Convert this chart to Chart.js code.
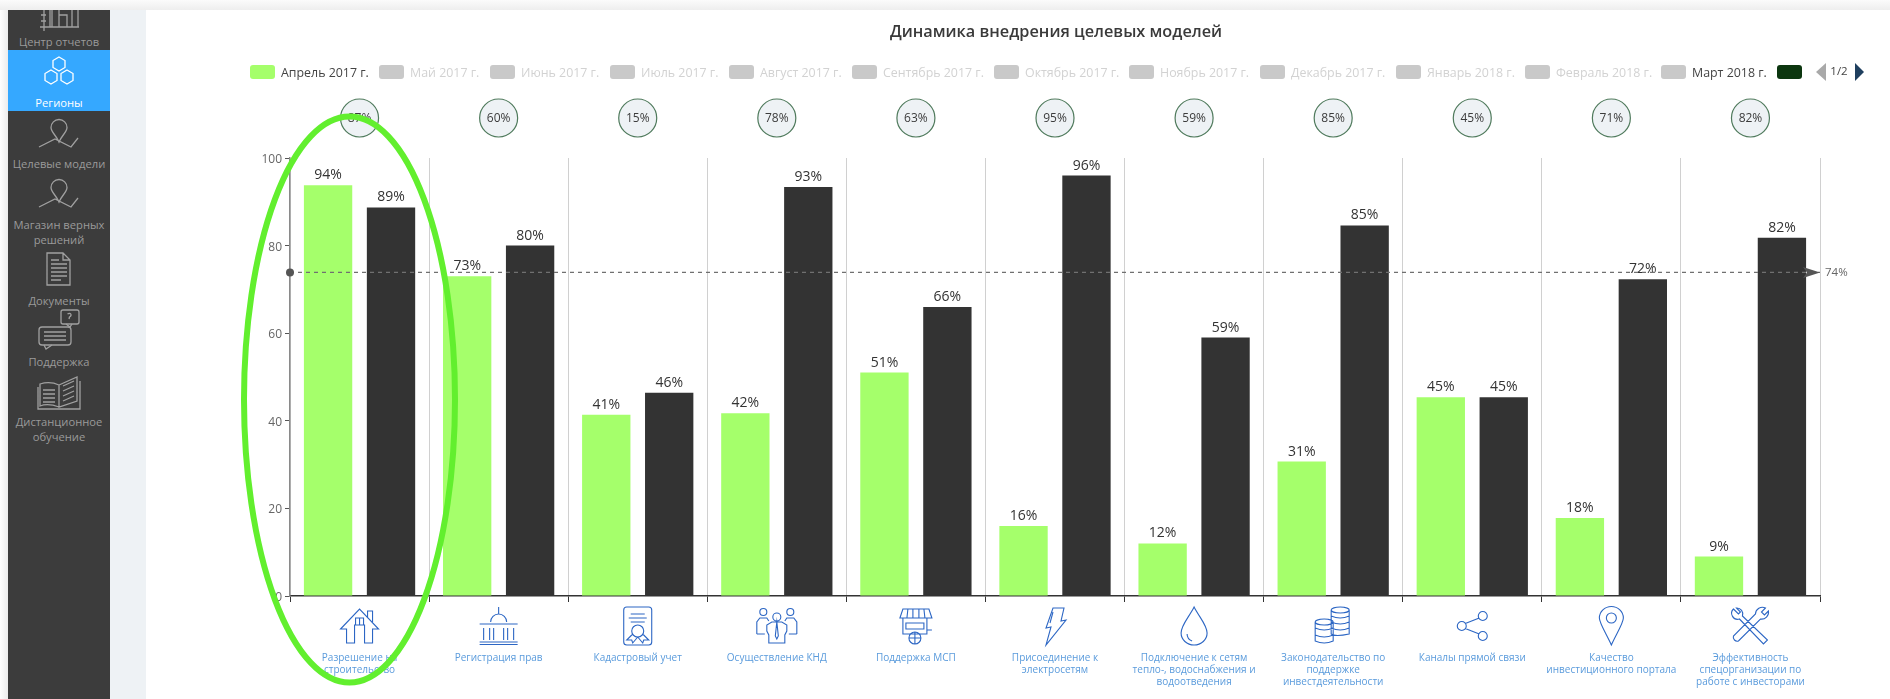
<!DOCTYPE html>
<html lang="ru"><head><meta charset="utf-8"><title>Динамика внедрения целевых моделей</title>
<script src="https://cdn.jsdelivr.net/npm/chart.js@4"></script>
<style>
html,body{margin:0;padding:0;background:#fff;overflow:hidden}
body{width:1890px;height:699px;position:relative;font-family:"Open Sans",sans-serif}
#top{position:absolute;left:0;top:0;width:1890px;height:10px;background:linear-gradient(#fbfbfb,#eeeeee)}
#edge{position:absolute;left:0;top:10px;width:8px;height:689px;background:linear-gradient(90deg,#fff,#ececec)}
#pale{position:absolute;left:110px;top:10px;width:36px;height:689px;background:#eef2f5}
#side{position:absolute;left:8px;top:10px;width:102px;height:689px;background:#3c3c3c;overflow:hidden}
#blue{position:absolute;left:0;top:40px;width:102px;height:61px;background:#35a8ff}
.t{position:absolute;left:0;width:102px;text-align:center;font-size:11.200px;line-height:15px;color:#9a9a9a;white-space:nowrap}
#side svg{position:absolute;left:0;top:0}
#c{position:absolute;left:0;top:0}
</style></head><body>
<div id="top"></div><div id="edge"></div><div id="pale"></div>
<div id="side"><div id="blue"></div>
<svg width="102" height="689" fill="none" stroke="#a0a0a0" stroke-width="1.300">
<path d="M32 17H71M36 0V21M33 5H38M33 11H38M42 0V17M44 0V17M51 0V17M51 5H59V17M64 0V17M70 0V17"/>
<g stroke="#fff"><path d="M51 47l6 3.500v7l-6 3.500-6-3.500v-7zM43 60l6 3.500v7l-6 3.500-6-3.500v-7zM59 60l6 3.500v7l-6 3.500-6-3.500v-7z"/></g>
<path d="M51 132C48 125 43 122 43 117.500a8 8 0 1 1 16 0C59 122 54 125 51 132zM31 137L47 129 63 137 70 128"/>
<path d="M51 192C48 185 43 182 43 177.500a8 8 0 1 1 16 0C59 182 54 185 51 192zM31 197L47 189 63 197 70 188"/>
<path d="M39 243h16l7 7v25H39zM55 243v7h7M43 250h8M43 254h16M43 258h16M43 262h16M43 266h16M43 270h10"/>
<rect x="53" y="300" width="18" height="14" rx="2"/><path d="M58 314l4 3 2-3"/><path d="M59.500 304c3-2 5 1 2 3l-.5 2"/>
<rect x="31" y="317" width="32" height="18" rx="3"/><path d="M36 335l2 4 6-4M36 322h22M36 326h22M36 330h22"/>
<path transform="translate(1,8)" d="M31 366v22q8-3 19 1v-22q-9-4-19-1zM50 367l18-8v24l-18 6zM34 372h12M34 376h12M34 380h12M34 384h12M54 368l11-5M54 373l11-5M54 378l11-5M54 383l11-5M29 369v22h42v-28"/>
</svg>
<div class="t" style="top:24px">Центр отчетов</div>
<div class="t" style="top:85px;color:#fff">Регионы</div>
<div class="t" style="top:146px">Целевые модели</div>
<div class="t" style="top:207px">Магазин верных<br>решений</div>
<div class="t" style="top:283px">Документы</div>
<div class="t" style="top:344px">Поддержка</div>
<div class="t" style="top:404px">Дистанционное<br>обучение</div>
</div>
<canvas id="c" width="1890" height="699"></canvas>
<script>
const FONT = '"Open Sans", sans-serif';
const categories = [
  ['Разрешение на','строительство'],
  ['Регистрация прав'],
  ['Кадастровый учет'],
  ['Осуществление КНД'],
  ['Поддержка МСП'],
  ['Присоединение к','электросетям'],
  ['Подключение к сетям','тепло-, водоснабжения и','водоотведения'],
  ['Законодательство по','поддержке','инвестдеятельности'],
  ['Каналы прямой связи'],
  ['Качество','инвестиционного портала'],
  ['Эффективность','спецорганизации по','работе с инвесторами']
];
const april2017 = [93.8,73,41.4,41.7,51,16,12,30.7,45.4,17.8,9];
const march2018 = [88.7,80,46.4,93.4,66,96,59,84.6,45.4,72.3,81.8];
const circleValues = [87,60,15,78,63,95,59,85,45,71,82];
const averageValue = 74;
const yTicks = [0,20,40,60,80,100];
const legendLabels = ['Апрель 2017 г.','Май 2017 г.','Июнь 2017 г.','Июль 2017 г.','Август 2017 г.','Сентябрь 2017 г.','Октябрь 2017 г.','Ноябрь 2017 г.','Декабрь 2017 г.','Январь 2018 г.','Февраль 2018 г.','Март 2018 г.'];
const legendLeft = [250,379,490,610,729,852,994,1129,1260,1396,1525,1661];
const titleText = 'Динамика внедрения целевых моделей';
const pageText = '1/2';

/* icons: path strings in a box centred on (0,0) */
const icons = [
 'M-19 3L0 -17 19 3H13V17H5V-1H-5V17H-13V3ZM8 -9V-15H13V-4M-4 -8H4V-1H-4ZM0 -8V-1',
 'M-19 -2H19M-19 16H19M-19 18.500H19M-15 2V14M-9 2V14M-5 2V14M5 2V14M9 2V14M15 2V14M-8 -4A8 8 0 0 1 8 -4M0 -12V-19',
 'M-11 -19H11Q14 -19 14 -16V16Q14 19 11 19H-11Q-14 19 -14 16V-16Q-14 -19 -11 -19ZM-7 -12H7M-9 -8H9M-7 -4H7M-6 5A6 6 0 1 0 6 5A6 6 0 1 0 -6 5M-5 8L-11 14 -6 14 -5 17 0 11 5 17 6 14 11 14 5 8',
 'M-4 -9A4 4 0 1 0 4 -9A4 4 0 1 0 -4 -9M-17 -14A3.500 3.500 0 1 0 -10 -14A3.500 3.500 0 1 0 -17 -14M10 -14A3.500 3.500 0 1 0 17 -14A3.500 3.500 0 1 0 10 -14M-8 17V9L-10 5V-1L-5 -4H5L10 -1V5L8 9V17ZM-20 8V-4L-17 -8H-10L-8 -5M20 8V-4L17 -8H10L8 -5M-20 8L-12 8M20 8L12 8M0 -4L-1.500 10 0 13 1.500 10Z',
 'M-13 -17H13L16 -8H-16ZM-8 -17L-9 -8M-3 -17V-8M3 -17V-8M8 -17L9 -8M-13 -8V8H11V-8M-10 -3H8V3H-10ZM-7 12A6 6 0 1 0 5 12A6 6 0 1 0 -7 12M-1 6V18M-7 12H5M11 4H16',
 'M-2 -18H9L6 -5 11 -6 -9 19 -4 1 -9 2ZM-2 -14L-5 -3',
 'M0 -19C5 -9 13 -1 13 7A13 12 0 1 1 -13 7C-13 -1 -5 -9 0 -19ZM-7 8Q-7 13 -2 15',
 'M-2 -16A9 3 0 1 0 16 -16A9 3 0 1 0 -2 -16V8Q2 11 16 8V-16M-2 -10Q7 -6 16 -10M-2 -4Q7 0 16 -4M-2 2Q7 6 16 2M-18 -4A9 3 0 1 0 0 -4A9 3 0 1 0 -18 -4V15Q-9 19 0 15V-4M-18 2Q-9 6 0 2M-18 9Q-9 13 0 9',
 'M-15 0A4.500 4.500 0 1 0 -6 0A4.500 4.500 0 1 0 -15 0M6 -10A4.500 4.500 0 1 0 15 -10A4.500 4.500 0 1 0 6 -10M6 10A4.500 4.500 0 1 0 15 10A4.500 4.500 0 1 0 6 10M-7 -2.500L7 -8M-7 2.500L7 8',
 'M0 19C-5 8 -12 -3 -12 -8A12 11.500 0 1 1 12 -8C12 -3 5 8 0 19ZM-5 -8A5 5 0 1 0 5 -8A5 5 0 1 0 -5 -8',
 'M-17 -17L-12 -12-10 -14-14 -18A6 6 0 0 1 -8 -10L17 14 13 18-11 -7A6 6 0 0 1 -17 -17ZM15 -18L11 -14 14 -11 18 -15A7 7 0 0 1 10 -7L-12 15A4 4 0 0 1 -17 10L5 -12A7 7 0 0 1 15 -18Z'
];
const iconPaths = icons.map(p => new Path2D(p));

function text(ctx,str,x,y,font,color,align){
  ctx.font = font; ctx.fillStyle = color; ctx.textAlign = align||'center'; ctx.textBaseline='middle';
  ctx.fillText(str,x,y);
}
const decor = {
  id:'decor',
  beforeDatasetsDraw(ch){
    const ctx=ch.ctx, xs=ch.scales.x;
    ctx.save();
    /* header */
    text(ctx,titleText,1056,32,'600 16.300px '+FONT,'#3a3a3a');
    legendLabels.forEach((l,i)=>{
      const on = i===0||i===legendLabels.length-1;
      ctx.beginPath(); ctx.roundRect(legendLeft[i],65,25,14,3);
      ctx.fillStyle = i===0?'#a5ff6b':'#c9c9c9'; ctx.fill();
      text(ctx,l,legendLeft[i]+31,73,'12.400px '+FONT,on?'#444':'#d2d2d2','left');
    });
    ctx.beginPath(); ctx.roundRect(1777,65,25,14,3); ctx.fillStyle='#0c360f'; ctx.fill();
    ctx.fillStyle='#a9a9a9'; ctx.beginPath(); ctx.moveTo(1826,63);ctx.lineTo(1816,72);ctx.lineTo(1826,81);ctx.closePath();ctx.fill();
    ctx.fillStyle='#1f3f5f'; ctx.beginPath(); ctx.moveTo(1855,63);ctx.lineTo(1864,72);ctx.lineTo(1855,81);ctx.closePath();ctx.fill();
    text(ctx,pageText,1839,72,'11.500px '+FONT,'#444');
    /* circles and icons per category */
    categories.forEach((c,i)=>{
      const x=xs.getPixelForTick(i);
      ctx.beginPath(); ctx.arc(x,118,19,0,Math.PI*2);
      ctx.fillStyle='#eef2f5'; ctx.fill(); ctx.lineWidth=1.2; ctx.strokeStyle='#4f7a5c'; ctx.stroke();
      text(ctx,circleValues[i]+'%',x,118.500,'12px '+FONT,'#3c3c3c');
      ctx.save(); ctx.translate(x,626); ctx.strokeStyle='#2c66c4'; ctx.lineWidth=1.1; ctx.stroke(iconPaths[i]); ctx.restore();
    });
    ctx.restore();
  },
  afterDatasetsDraw(ch){
    const ctx=ch.ctx, a=ch.chartArea, ys=ch.scales.y;
    ctx.save();
    /* value labels */
    ch.data.datasets.forEach((d,di)=>{
      ch.getDatasetMeta(di).data.forEach((el,i)=>{
        text(ctx,Math.round(d.data[i])+'%',el.x,el.y-10,'14px '+FONT,'#333');
      });
    });
    /* average line */
    const y=ys.getPixelForValue(averageValue);
    ctx.setLineDash([4,4]); ctx.lineWidth=1.300; ctx.strokeStyle='#707070';
    ctx.beginPath(); ctx.moveTo(a.left,y+.5); ctx.lineTo(a.right,y+.5); ctx.stroke(); ctx.setLineDash([]);
    ctx.fillStyle='#555'; ctx.beginPath(); ctx.arc(a.left,y+.5,4,0,Math.PI*2); ctx.fill();
    ctx.beginPath(); ctx.moveTo(a.right-17,y-5); ctx.lineTo(a.right,y+.5); ctx.lineTo(a.right-17,y+6); ctx.lineTo(a.right-13,y+.5); ctx.closePath(); ctx.fill();
    text(ctx,averageValue+'%',a.right+5,y+1,'11.500px '+FONT,'#666','left');
    /* hand-drawn highlight */
    ctx.beginPath(); ctx.ellipse(349.500,399.500,105.500,283,0,0,Math.PI*2);
    ctx.lineWidth=6; ctx.strokeStyle='#62ef2e'; ctx.stroke();
    ctx.restore();
  }
};
new Chart(document.getElementById('c'),{
  type:'bar',
  data:{labels:categories,datasets:[
    {label:legendLabels[0],data:april2017,backgroundColor:'#a5ff6b',categoryPercentage:.905,barPercentage:.768},
    {label:legendLabels[11],data:march2018,backgroundColor:'#333333',categoryPercentage:.905,barPercentage:.768}
  ]},
  options:{
    responsive:false,animation:false,
    layout:{padding:{left:250,right:70,top:158,bottom:0}},
    plugins:{legend:{display:false},title:{display:false},tooltip:{enabled:false}},
    scales:{
      x:{
        afterFit(s){s.height=103;},
        border:{color:'#333',width:1.5},
        grid:{color:'#d0d0d0',tickColor:'#333',tickLength:6,offset:true,drawOnChartArea:true},
        ticks:{color:'#5a9bdc',font:{family:FONT,size:10},padding:50,maxRotation:0,minRotation:0,autoSkip:false,align:'center'}
      },
      y:{
        min:0,max:100,
        afterFit(s){s.width=40;},
        afterBuildTicks(s){s.ticks=yTicks.map(v=>({value:v}));},
        border:{color:'#8a8a8a',width:1.5},
        grid:{drawOnChartArea:false,tickColor:'#555',tickLength:5},
        ticks:{color:'#666',font:{family:FONT,size:12},padding:3,labelOffset:1.500}
      }
    }
  },
  plugins:[decor]
});
</script>
</body></html>
